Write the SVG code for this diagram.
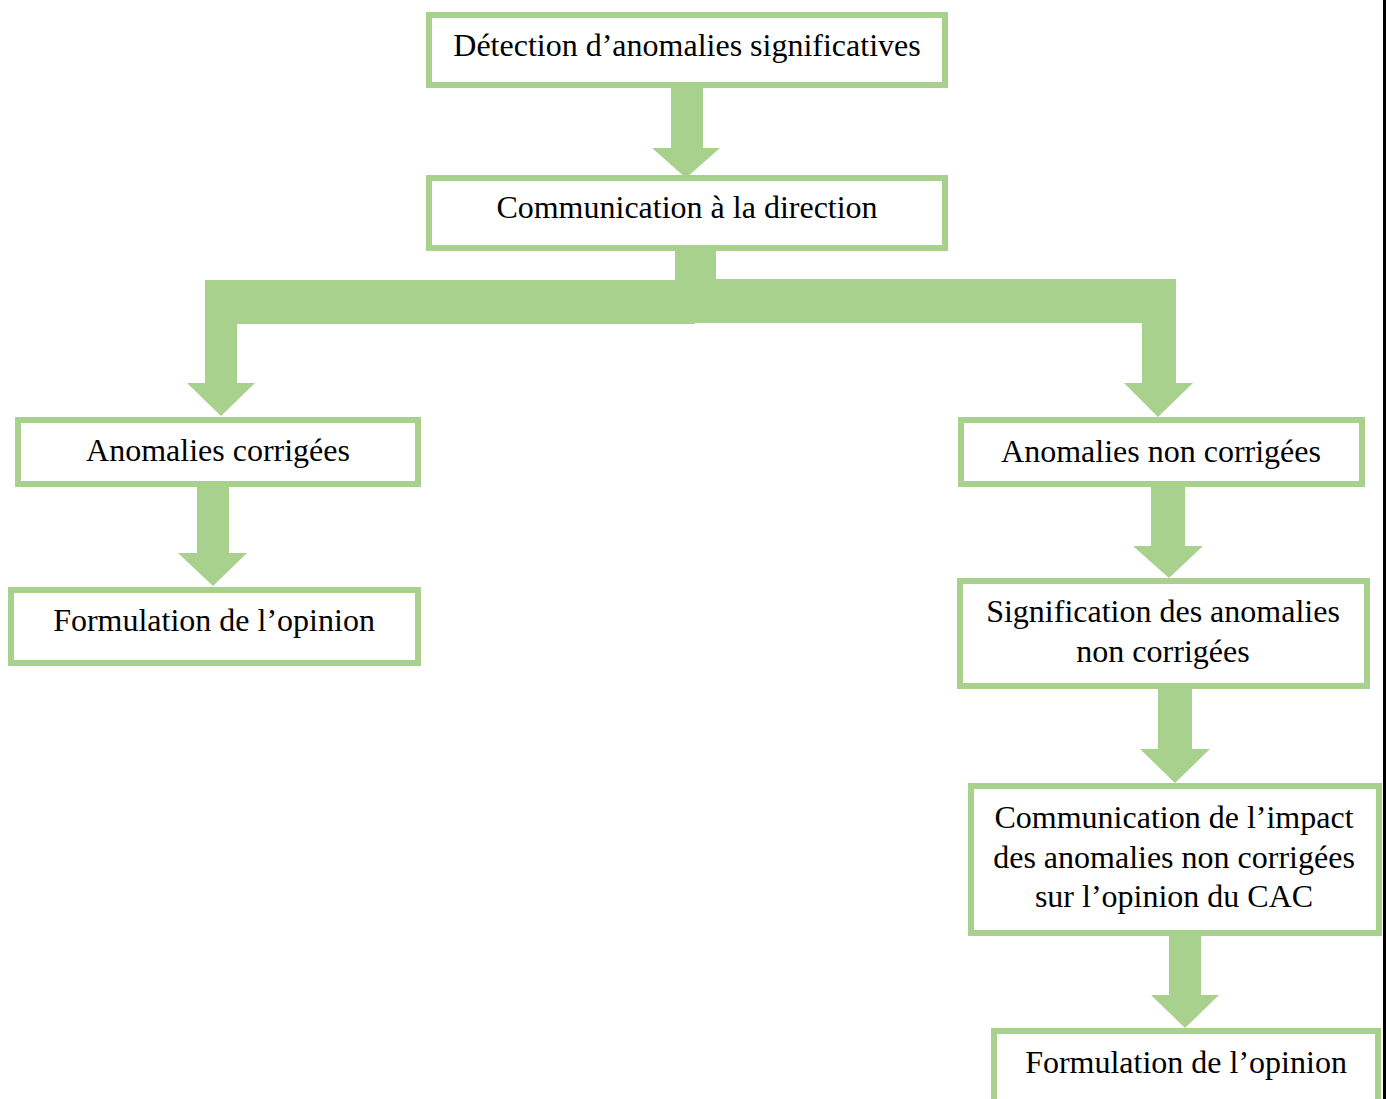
<svg xmlns="http://www.w3.org/2000/svg" width="1386" height="1099" viewBox="0 0 1386 1099">
<style>
.box{fill:#fff;stroke:#A9D18E;stroke-width:6}
.t{font-family:"Liberation Serif","Times New Roman",serif;font-size:32px;fill:#000;text-anchor:middle}
.c{fill:#A9D18E}
</style>
<rect width="1386" height="1099" fill="#fff"/>
<g id="connectors">
<polygon class="c" points="671,85 703,85 703,148 720,148 686,178 652,148 671,148"/>
<rect class="c" x="675" y="244" width="41" height="38"/>
<rect class="c" x="205" y="280" width="490" height="44"/>
<rect class="c" x="693" y="279" width="483" height="44"/>
<polygon class="c" points="205,323 237,323 237,383 255,383 221,416 187,383 205,383"/>
<polygon class="c" points="1142,322 1176,322 1176,383 1193,383 1158,417 1124,383 1142,383"/>
<polygon class="c" points="197,485 229,485 229,553 247,553 213,586 178,553 197,553"/>
<polygon class="c" points="1151,485 1185,485 1185,546 1203,546 1169,578 1133,546 1151,546"/>
<polygon class="c" points="1158,687 1192,687 1192,749 1210,749 1175,783 1140,749 1158,749"/>
<polygon class="c" points="1169,934 1201,934 1201,995 1219,995 1185,1028 1151,995 1169,995"/>
</g>
<g id="n1"><rect class="box" x="429" y="15" width="516" height="70"/><text class="t" x="687" y="56">Détection d’anomalies significatives</text></g>
<g id="n2"><rect class="box" x="429" y="178" width="516" height="70"/><text class="t" x="687" y="218">Communication à la direction</text></g>
<g id="n3"><rect class="box" x="18" y="420" width="400" height="64"/><text class="t" x="218" y="461">Anomalies corrigées</text></g>
<g id="n4"><rect class="box" x="11" y="590" width="407" height="73"/><text class="t" x="214" y="631">Formulation de l’opinion</text></g>
<g id="n5"><rect class="box" x="961" y="420" width="401" height="64"/><text class="t" x="1161" y="462">Anomalies non corrigées</text></g>
<g id="n6"><rect class="box" x="960" y="581" width="407" height="105"/><text class="t" x="1163" y="622">Signification des anomalies</text><text class="t" x="1163" y="662">non corrigées</text></g>
<g id="n7"><rect class="box" x="971" y="786" width="408" height="147"/><text class="t" x="1174" y="828">Communication de l’impact</text><text class="t" x="1174" y="868">des anomalies non corrigées</text><text class="t" x="1174" y="907">sur l’opinion du CAC</text></g>
<g id="n8"><rect class="box" x="994" y="1031" width="384" height="100"/><text class="t" x="1186" y="1073">Formulation de l’opinion</text></g>
<rect x="1383" y="0" width="3" height="1099" fill="#000"/>
</svg>
